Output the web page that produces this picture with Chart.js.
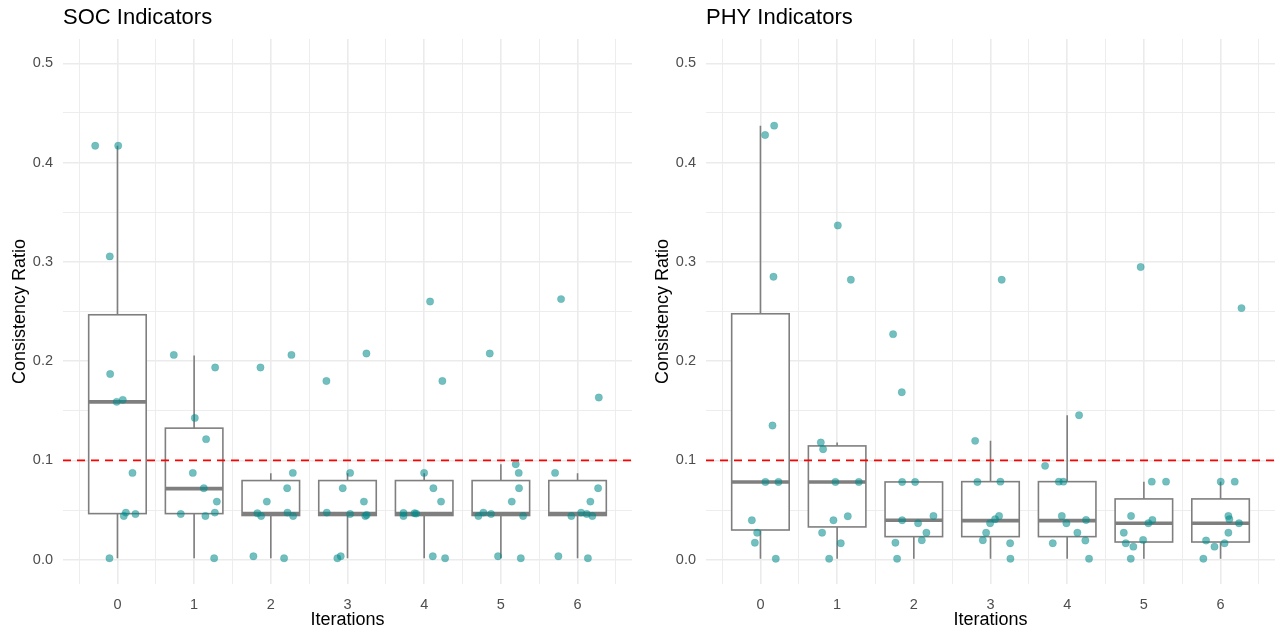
<!DOCTYPE html>
<html><head><meta charset="utf-8">
<script src="https://cdn.jsdelivr.net/npm/chart.js@4.4.1/dist/chart.umd.min.js"></script>
<style>
html,body{margin:0;padding:0;background:#fff;width:1280px;height:634px;overflow:hidden;}
#wrapL{position:absolute;left:0;top:0;width:640px;height:634px;}
#wrapR{position:absolute;left:643px;top:0;width:637px;height:634px;}
</style></head><body>
<div id="wrapL"><canvas id="socChart" width="640" height="634"></canvas></div>
<div id="wrapR"><canvas id="phyChart" width="637" height="634"></canvas></div>
<script>
// ---------- data ----------
const iterations = [0, 1, 2, 3, 4, 5, 6];
const xTickValues = [0, 1, 2, 3, 4, 5, 6];
const xMinorValues = [-0.5, 0.5, 1.5, 2.5, 3.5, 4.5, 5.5, 6.5];
const yTickValues = [0, 0.1, 0.2, 0.3, 0.4, 0.5];
const yMinorValues = [0.05, 0.15, 0.25, 0.35, 0.45];
const threshold = 0.1;
const xLimits = [-0.71, 6.71];
const yLimits = [-0.0245, 0.5245];

// SOC indicators: iteration of each point, horizontal jitter, consistency ratio
const socIter = [
  0,0,0,0,0,0,0,0,0,0,0,
  1,1,1,1,1,1,1,1,1,1,1,
  2,2,2,2,2,2,2,2,2,2,2,
  3,3,3,3,3,3,3,3,3,3,3,
  4,4,4,4,4,4,4,4,4,4,4,
  5,5,5,5,5,5,5,5,5,5,5,
  6,6,6,6,6,6,6,6,6,6,6
];
const socJitter = [
  -0.29, 0.01, -0.10, -0.095, -0.01, 0.07, 0.196, 0.11, 0.083, 0.235, -0.104,
  -0.265, 0.274, 0.009, 0.156, -0.017, 0.126, 0.296, -0.174, 0.147, 0.27, 0.261,
  -0.135, 0.269, 0.287, 0.213, -0.052, -0.175, -0.126, 0.217, 0.291, -0.227, 0.173,
  -0.275, 0.247, 0.034, -0.062, 0.214, -0.27, 0.034, 0.232, 0.25, -0.132, -0.088,
  0.077, 0.237, -0.001, 0.12, 0.22, -0.27, -0.27, -0.126, -0.104, 0.112, 0.273,
  -0.145, 0.194, 0.233, 0.237, 0.142, -0.293, -0.228, -0.128, 0.29, -0.037, 0.26,
  -0.215, 0.277, -0.293, 0.268, 0.167, -0.081, 0.046, 0.12, 0.193, -0.25, 0.135
];
const socCR = [
  0.417, 0.417, 0.3055, 0.187, 0.159, 0.161, 0.0874, 0.0474, 0.044, 0.046, 0.0014,
  0.2063, 0.1936, 0.1428, 0.1214, 0.0874, 0.072, 0.0585, 0.046, 0.044, 0.0474, 0.0014,
  0.1936, 0.2063, 0.0874, 0.072, 0.0585, 0.0467, 0.044, 0.0474, 0.044, 0.0034, 0.0014,
  0.180, 0.2077, 0.0874, 0.072, 0.0585, 0.0474, 0.046, 0.044, 0.045, 0.0014, 0.0034,
  0.260, 0.180, 0.0874, 0.072, 0.0585, 0.047, 0.044, 0.0467, 0.0464, 0.0034, 0.0014,
  0.2077, 0.0962, 0.0874, 0.072, 0.0585, 0.044, 0.0474, 0.046, 0.044, 0.0034, 0.0014,
  0.2625, 0.1633, 0.0874, 0.072, 0.0585, 0.044, 0.0474, 0.046, 0.044, 0.0034, 0.0014
];
const socLower  = [0.0014, 0.0014, 0.0014, 0.0014, 0.0014, 0.0014, 0.0014];
const socQ1     = [0.0464, 0.0464, 0.0445, 0.0445, 0.0445, 0.0445, 0.0445];
const socMedian = [0.159, 0.0716, 0.0465, 0.0465, 0.0465, 0.0465, 0.0465];
const socQ3     = [0.2467, 0.1325, 0.0797, 0.0797, 0.0797, 0.0797, 0.0797];
const socUpper  = [0.417, 0.2056, 0.0871, 0.0871, 0.0871, 0.0962, 0.0871];

// PHY indicators
const phyIter = [
  0,0,0,0,0,0,0,0,0,0,
  1,1,1,1,1,1,1,1,1,1,1,
  2,2,2,2,2,2,2,2,2,2,2,
  3,3,3,3,3,3,3,3,3,3,3,
  4,4,4,4,4,4,4,4,4,4,4,
  5,5,5,5,5,5,5,5,5,5,5,
  6,6,6,6,6,6,6,6,6,6,6
];
const phyJitter = [
  0.061, 0.179, 0.17, 0.157, 0.065, 0.235, -0.112, -0.043, -0.073, 0.2,
  0.009, 0.179, -0.213, -0.183, -0.022, 0.283, 0.139, -0.048, -0.196, 0.048, -0.104,
  -0.27, -0.157, -0.152, 0.017, -0.152, 0.056, 0.256, 0.164, 0.104, -0.24, -0.218,
  -0.2, 0.146, -0.171, 0.129, 0.112, 0.06, -0.005, -0.057, -0.1, 0.256, 0.26,
  0.155, -0.288, -0.109, -0.05, -0.07, -0.01, 0.246, 0.133, -0.188, 0.237, 0.285,
  -0.042, 0.103, 0.289, -0.167, 0.111, 0.059, -0.262, -0.01, -0.236, -0.137, -0.171,
  0.273, 0.002, 0.185, 0.102, 0.115, 0.241, 0.102, -0.189, 0.052, -0.079, -0.224
];
const phyCR = [
  0.4278, 0.4372, 0.285, 0.1351, 0.0783, 0.0783, 0.0397, 0.0272, 0.0171, 0.001,
  0.3367, 0.282, 0.118, 0.1113, 0.0783, 0.0783, 0.0437, 0.0397, 0.0272, 0.0165, 0.001,
  0.2272, 0.1687, 0.0783, 0.0783, 0.0397, 0.0367, 0.044, 0.0272, 0.0196, 0.0171, 0.001,
  0.1197, 0.282, 0.0783, 0.0786, 0.044, 0.0407, 0.0367, 0.0272, 0.0196, 0.0165, 0.001,
  0.1455, 0.0945, 0.0786, 0.0786, 0.044, 0.0367, 0.040, 0.0272, 0.0165, 0.0193, 0.001,
  0.2948, 0.0786, 0.0786, 0.044, 0.040, 0.0367, 0.0272, 0.0199, 0.0165, 0.0131, 0.001,
  0.2534, 0.0786, 0.0786, 0.044, 0.0407, 0.0367, 0.0272, 0.0193, 0.0165, 0.0131, 0.001
];
const phyLower  = [0.001, 0.001, 0.001, 0.001, 0.001, 0.001, 0.001];
const phyQ1     = [0.0299, 0.033, 0.0232, 0.0232, 0.0232, 0.0178, 0.0178];
const phyMedian = [0.0783, 0.0783, 0.0397, 0.0393, 0.0393, 0.0367, 0.0367];
const phyQ3     = [0.2477, 0.1146, 0.0783, 0.0786, 0.0786, 0.0612, 0.0612];
const phyUpper  = [0.4372, 0.118, 0.0783, 0.1197, 0.1455, 0.0786, 0.0786];

// ---------- rendering ----------
const FONT = "'Liberation Sans', Arial, Helvetica, sans-serif";
const BOX_WIDTH = 0.75;
const inSet = (arr, v) => arr.some(a => Math.abs(a - v) < 1e-9);

function boxPlugin(lower, q1, med, q3, upper) {
  return {
    id: 'boxplots',
    beforeDatasetsDraw(chart) {
      const xs = chart.scales.x, ys = chart.scales.y, ctx = chart.ctx;
      ctx.save();
      ctx.strokeStyle = '#7f7f7f';
      iterations.forEach((it, i) => {
        const cx = xs.getPixelForValue(it);
        const x0 = xs.getPixelForValue(it - BOX_WIDTH / 2);
        const x1 = xs.getPixelForValue(it + BOX_WIDTH / 2);
        const yLo = ys.getPixelForValue(lower[i]);
        const yQ1 = ys.getPixelForValue(q1[i]);
        const yMed = ys.getPixelForValue(med[i]);
        const yQ3 = ys.getPixelForValue(q3[i]);
        const yHi = ys.getPixelForValue(upper[i]);
        ctx.lineWidth = 1.6;
        ctx.beginPath();
        ctx.moveTo(cx, yLo); ctx.lineTo(cx, yQ1);
        ctx.moveTo(cx, yQ3); ctx.lineTo(cx, yHi);
        ctx.stroke();
        ctx.fillStyle = '#ffffff';
        ctx.fillRect(x0, yQ3, x1 - x0, yQ1 - yQ3);
        ctx.strokeRect(x0, yQ3, x1 - x0, yQ1 - yQ3);
        ctx.lineWidth = 3.6;
        ctx.beginPath();
        ctx.moveTo(x0, yMed); ctx.lineTo(x1, yMed);
        ctx.stroke();
      });
      ctx.restore();
    }
  };
}

function titlePlugin(text) {
  return {
    id: 'panelTitle',
    afterDraw(chart) {
      const ctx = chart.ctx;
      ctx.save();
      ctx.font = '22px ' + FONT;
      ctx.fillStyle = '#000000';
      ctx.textAlign = 'left';
      ctx.textBaseline = 'alphabetic';
      ctx.fillText(text, chart.chartArea.left, 24);
      ctx.restore();
    }
  };
}

function buildChart(id, title, iter, jitter, cr, lower, q1, med, q3, upper, padRight) {
  const pts = iter.map((it, i) => ({ x: it + jitter[i], y: cr[i] }));
  return new Chart(document.getElementById(id), {
    type: 'scatter',
    data: {
      datasets: [
        {
          type: 'line',
          data: xLimits.map(x => ({ x: x, y: threshold })),
          borderColor: '#ff0000',
          borderWidth: 1.8,
          borderDash: [8, 6],
          pointRadius: 0,
          fill: false,
          order: 0
        },
        {
          type: 'scatter',
          data: pts,
          backgroundColor: 'rgba(0,139,139,0.55)',
          borderColor: 'rgba(0,139,139,0.3)',
          borderWidth: 0.6,
          pointRadius: 3.7,
          order: 1
        }
      ]
    },
    options: {
      responsive: false,
      animation: false,
      events: [],
      layout: { padding: { left: 0, top: 39, right: padRight, bottom: 0 } },
      plugins: { legend: { display: false }, tooltip: { enabled: false } },
      scales: {
        x: {
          type: 'linear',
          min: xLimits[0], max: xLimits[1],
          afterBuildTicks: s => {
            s.ticks = [...xTickValues, ...xMinorValues].sort((a, b) => a - b).map(v => ({ value: v }));
          },
          afterFit: s => { s.height = 50; },
          border: { display: false },
          grid: {
            color: '#ebebeb',
            drawTicks: false,
            lineWidth: c => (c.tick && inSet(xTickValues, c.tick.value)) ? 1.6 : 0.9
          },
          ticks: {
            autoSkip: false, maxRotation: 0, padding: 12,
            color: '#4d4d4d',
            font: { family: FONT, size: 14.5 },
            callback: v => inSet(xTickValues, v) ? String(Math.round(v)) : ''
          },
          title: {
            display: true, text: 'Iterations', color: '#000000',
            font: { family: FONT, size: 18 },
            padding: { top: 0, bottom: 3 }
          }
        },
        y: {
          type: 'linear',
          min: yLimits[0], max: yLimits[1],
          afterBuildTicks: s => {
            s.ticks = [...yTickValues, ...yMinorValues].sort((a, b) => a - b).map(v => ({ value: v }));
          },
          afterFit: s => { s.width = 63; },
          border: { display: false },
          grid: {
            color: '#ebebeb',
            drawTicks: false,
            lineWidth: c => (c.tick && inSet(yTickValues, c.tick.value)) ? 1.6 : 0.9
          },
          ticks: {
            autoSkip: false, padding: 10,
            color: '#4d4d4d',
            font: { family: FONT, size: 14.5 },
            callback: v => inSet(yTickValues, v) ? v.toFixed(1) : ''
          },
          title: {
            display: true, text: 'Consistency Ratio', color: '#000000',
            font: { family: FONT, size: 18 },
            padding: { top: 9, bottom: 0 }
          }
        }
      }
    },
    plugins: [boxPlugin(lower, q1, med, q3, upper), titlePlugin(title)]
  });
}

buildChart('socChart', 'SOC Indicators', socIter, socJitter, socCR,
  socLower, socQ1, socMedian, socQ3, socUpper, 8);
buildChart('phyChart', 'PHY Indicators', phyIter, phyJitter, phyCR,
  phyLower, phyQ1, phyMedian, phyQ3, phyUpper, 5);
</script>
</body></html>
